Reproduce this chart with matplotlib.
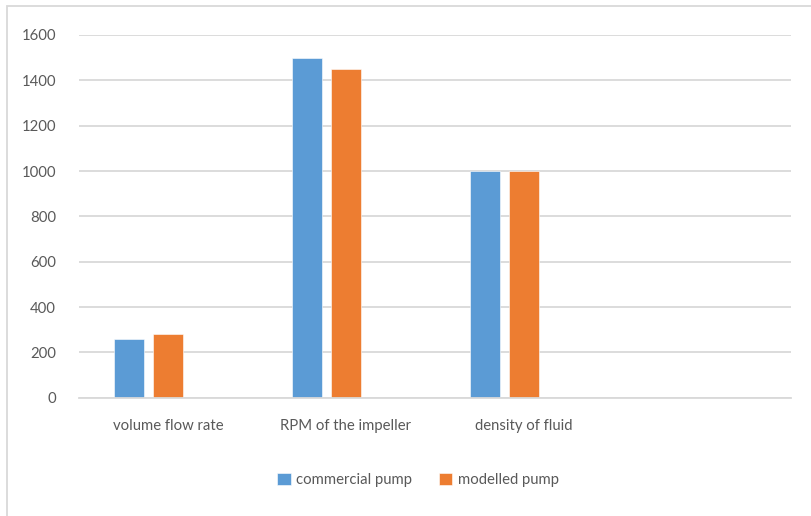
import matplotlib
matplotlib.use("Agg")
import matplotlib.pyplot as plt
from matplotlib.patches import Rectangle
import numpy as np

categories = ["volume flow rate", "RPM of the impeller", "density of fluid", ""]
commercial = [260, 1500, 1000, None]
modelled = [280, 1450, 1000, None]
series_names = ["commercial pump", "modelled pump"]
y_ticks = [0, 200, 400, 600, 800, 1000, 1200, 1400, 1600]

BLUE = "#5B9BD5"
ORANGE = "#ED7D31"
TEXT = "#595959"
GRID = "#D9D9D9"

plt.rcParams["font.family"] = ["Lato", "DejaVu Sans"]

W, H = 811, 516
fig = plt.figure(figsize=(W / 100, H / 100), dpi=100)

# chart frame (extends past the right and bottom edges)
fig.patches.append(Rectangle((7 / W, -0.1), 1.2, 1 - 6 / H + 0.1,
                             transform=fig.transFigure, fill=False,
                             edgecolor=GRID, linewidth=1.3))

ax = fig.add_axes([79 / W, (H - 397.7) / H, (791 - 79) / W, (397.7 - 35) / H])

x = np.arange(len(categories))
bar_w = 30 / 178
step = 39.5 / 178  # three series slots per category; the third is empty

def clean(vals):
    return [np.nan if v is None else v for v in vals]

ax.bar(x - step, clean(commercial), width=bar_w, color=BLUE, label=series_names[0],
       edgecolor="white", linewidth=0.4)
ax.bar(x, clean(modelled), width=bar_w, color=ORANGE, label=series_names[1],
       edgecolor="white", linewidth=0.4)

ax.set_xlim(-0.5, len(categories) - 0.5)
ax.set_ylim(0, 1600)
ax.set_yticks(y_ticks)
ax.set_yticklabels([str(v) for v in y_ticks])
ax.set_xticks(x)
ax.set_xticklabels(categories)
ax.tick_params(axis="y", length=0, pad=16.5, labelsize=10.7, labelcolor=TEXT)
ax.tick_params(axis="x", length=0, pad=15, labelsize=10.7, labelcolor=TEXT)
ax.grid(axis="y", color=GRID, linewidth=1.3)
ax.set_axisbelow(True)
for s in ["top", "right", "left"]:
    ax.spines[s].set_visible(False)
ax.spines["bottom"].set_color(GRID)
ax.spines["bottom"].set_linewidth(1.3)

leg = fig.legend(loc="center", bbox_to_anchor=(418 / W, (H - 480) / H), ncol=2,
                 frameon=False, fontsize=10.7, labelcolor=TEXT,
                 handlelength=0.94, handleheight=0.94, handletextpad=0.35,
                 columnspacing=1.75, borderpad=0)

fig.savefig("out.png", dpi=100)
